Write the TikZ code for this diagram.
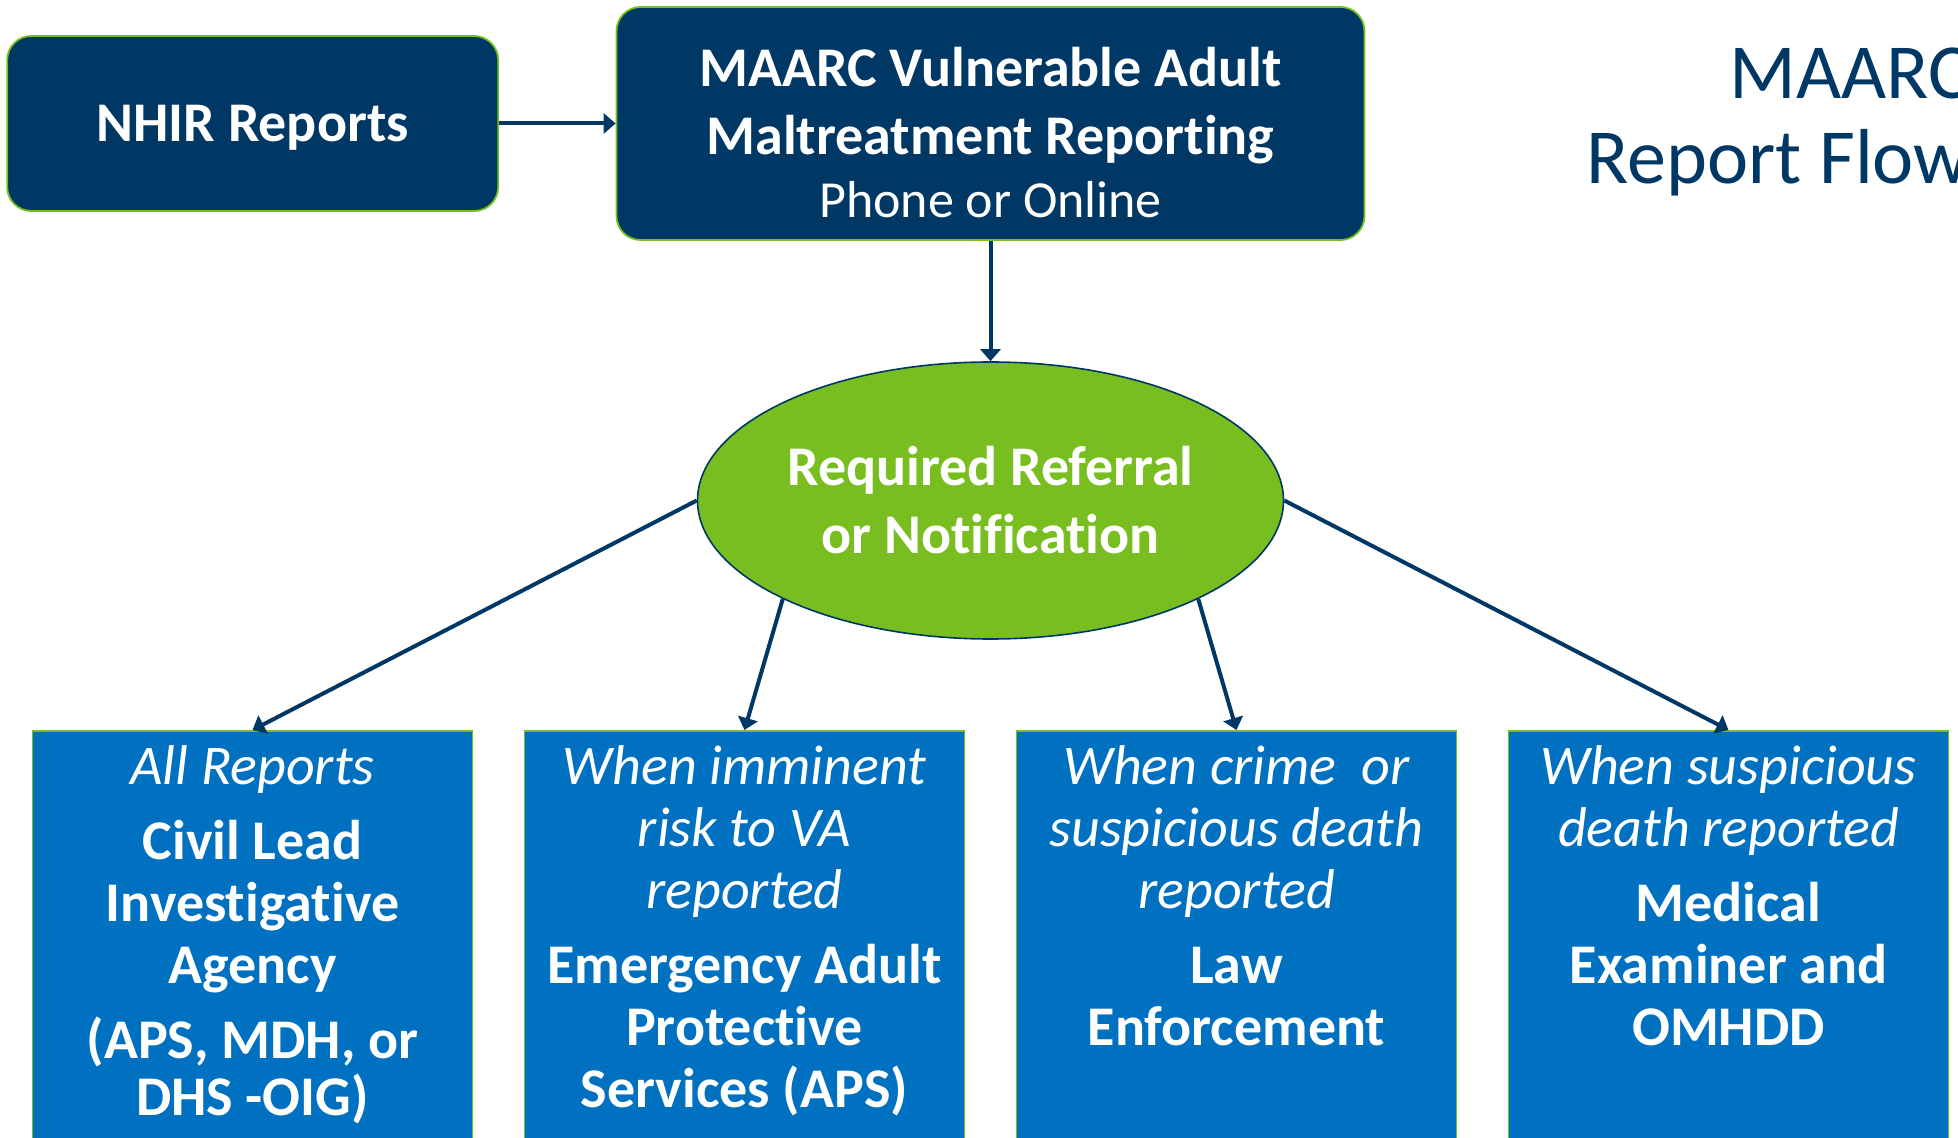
\documentclass[tikz,border=0pt]{standalone}
\usepackage{fontspec}
\setmainfont{Carlito}[Ligatures=NoCommon]
\usetikzlibrary{positioning,shapes.geometric,arrows.meta}

\definecolor{navy}{HTML}{003865}
\definecolor{lime}{HTML}{78BE21}
\definecolor{ocean}{HTML}{0070C0}

\newcommand{\boxtext}[1]{\parbox[t][215pt][t]{215pt}{\centering\fontsize{28}{31}\selectfont #1}}
\newcommand{\nextpara}{\par\vspace{6.5pt}}
\newcommand{\cond}[1]{{\itshape\rule{0pt}{27pt}#1\nextpara}}

\begin{document}
\begin{tikzpicture}[x=0.5pt, y=-0.5pt,
        flow/.style={draw=navy, line width=2pt, -{Triangle[length=6pt,width=10pt]}},
        edge from parent/.style={flow},
        feed/.style={edge from parent path={(\tikzparentnode.#1) -- (\tikzchildnode.north)}},
        topbox/.style={draw=lime, line width=0.9pt, fill=navy, text=white, rounded corners=12pt,
            align=center, inner sep=0pt, font=\fontsize{28}{34}\selectfont\bfseries},
        referral/.style={ellipse, draw=navy, line width=0.8pt, fill=lime, text=white, align=center,
            inner sep=0pt, minimum width=293pt, minimum height=138.5pt, font=\fontsize{28}{34}\selectfont\bfseries},
        agency/.style={draw=lime, line width=0.9pt, fill=ocean, text=white, inner sep=0pt,
            minimum width=220pt, anchor=north},
        heading/.style={text=navy, inner sep=0pt, anchor=base east, font=\fontsize{39}{47}\selectfont},
        level 1/.style={level distance=188.5pt},
        level 2/.style={level distance=114.75pt, sibling distance=246pt}]
    \useasboundingbox (0,0) rectangle (1958,1138);
    \clip (0,0) rectangle (1958,1138);
    \node[topbox, minimum width=374pt, minimum height=116.5pt] (maarc) at (990.5,123.5)
        {\rule{0pt}{29pt}MAARC Vulnerable Adult\\Maltreatment Reporting\\[-2.5pt]{\mdseries\fontsize{26}{34}\selectfont Phone or Online}}
        child {node[referral] (referral) {Required Referral\\or Notification}
            child[feed=west] {node[agency] (lead) {\boxtext{\cond{All Reports}{\bfseries Civil Lead\\Investigative\\Agency\nextpara (APS, MDH, or\\[-2.5pt]DHS -OIG)}}}}
            child[feed=south west] {node[agency] (eaps) {\boxtext{\cond{When imminent\\risk to VA\\reported}{\bfseries Emergency Adult\\Protective\\Services (APS)}}}}
            child[feed=south east] {node[agency] (police) {\boxtext{\cond{When crime\ \ or\\suspicious death\\reported}{\bfseries Law\\Enforcement}}}}
            child[feed=east] {node[agency] (examiner) {\boxtext{\cond{When suspicious\\death reported}{\bfseries Medical\\Examiner and\\OMHDD}}}}
        };
    \node[topbox, minimum width=245.5pt, minimum height=87.5pt, text depth=0pt, left=58.25pt of maarc] (nhir) {NHIR Reports};
    \draw[flow] (nhir) -- (maarc);
    % title, cut off at the right edge
    \node[heading] (titletop) at (1970,99) {MAARC};
    \node[heading] (titlebot) at (1970,184) {Report Flow};
\end{tikzpicture}
\end{document}
